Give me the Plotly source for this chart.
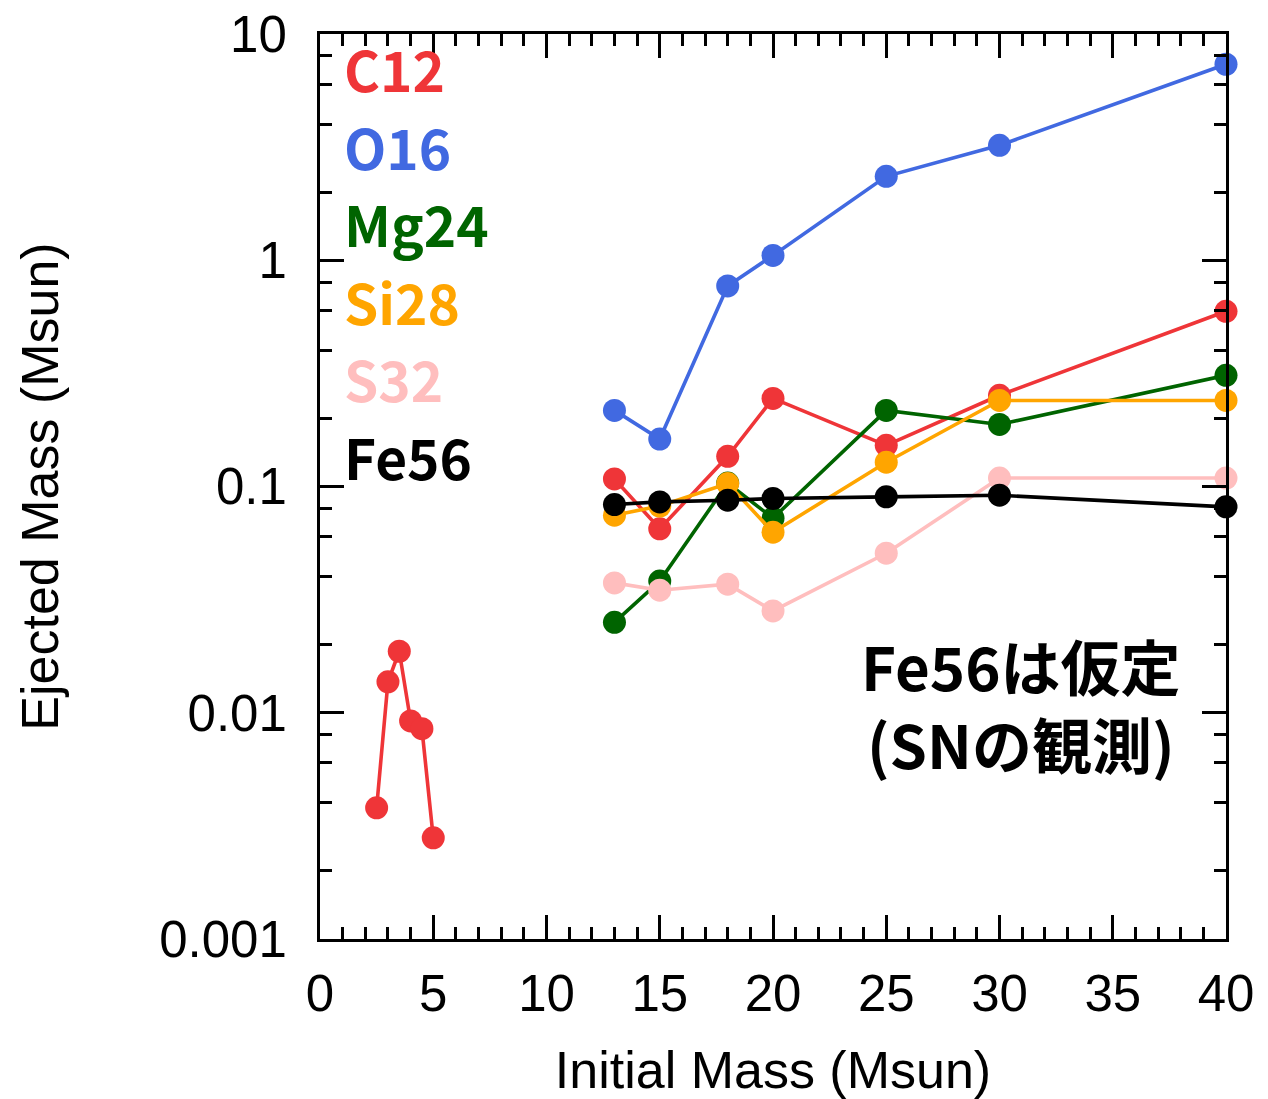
import plotly.graph_objects as go

# Initial stellar masses (Msun)
low_masses = [2.5, 3.0, 3.5, 4.0, 4.5, 5.0]
sn_masses = [13, 15, 18, 20, 25, 30, 40]

# Ejected masses (Msun) for each isotope
c12_low = [0.0038, 0.0137, 0.0187, 0.0092, 0.0085, 0.0028]
c12_sn = [0.108, 0.065, 0.136, 0.245, 0.152, 0.253, 0.595]
o16_sn = [0.217, 0.162, 0.77, 1.05, 2.35, 3.22, 7.35]
mg24_sn = [0.0251, 0.0382, 0.1035, 0.0724, 0.217, 0.188, 0.310]
si28_sn = [0.0747, 0.082, 0.103, 0.0628, 0.128, 0.240, 0.240]
s32_sn = [0.0375, 0.0348, 0.0370, 0.0282, 0.0507, 0.109, 0.109]
fe56_sn = [0.0832, 0.0855, 0.0870, 0.0885, 0.0900, 0.0915, 0.0813]

y_tickvals = [0.001, 0.01, 0.1, 1, 10]
y_ticktext = ["0.001", "0.01", "0.1", "1", "10"]
x_tickvals = [0, 5, 10, 15, 20, 25, 30, 35, 40]

RED = "#EF3538"
BLUE = "#4169E1"
GREEN = "#006400"
ORANGE = "#FFA500"
PINK = "#FFBEBE"
BLACK = "#000000"

series = [
    ("C12", low_masses, c12_low, RED),
    ("C12", sn_masses, c12_sn, RED),
    ("O16", sn_masses, o16_sn, BLUE),
    ("Mg24", sn_masses, mg24_sn, GREEN),
    ("Si28", sn_masses, si28_sn, ORANGE),
    ("S32", sn_masses, s32_sn, PINK),
    ("Fe56", sn_masses, fe56_sn, BLACK),
]

fig = go.Figure()
for name, xs, ys, color in series:
    fig.add_trace(go.Scatter(
        x=xs, y=ys, mode="lines+markers", name=name,
        line=dict(color=color, width=3.6),
        marker=dict(color=color, size=23),
        cliponaxis=False, showlegend=False,
    ))

# Coloured isotope labels in the upper-left corner
label_font = "Noto Sans CJK JP"
labels = [("C12", RED), ("O16", BLUE), ("Mg24", GREEN),
          ("Si28", ORANGE), ("S32", PINK), ("Fe56", BLACK)]
top_px, step_px = 68, 77.6
for i, (txt, color) in enumerate(labels):
    ypx = top_px + i * step_px
    fig.add_annotation(
        text=f"<b>{txt}</b>", xref="paper", yref="paper",
        x=(342 - 320) / 906, y=(939 - ypx) / 905,
        xanchor="left", yanchor="middle", showarrow=False,
        font=dict(family=label_font, size=55, color=color),
    )

# Note on the iron yield
fig.add_annotation(
    text="<b>Fe56は仮定</b><br><b>(SNの観測)</b>",
    xref="paper", yref="paper",
    x=(1021 - 320) / 906, y=(939 - 703) / 905,
    xanchor="center", yanchor="middle", align="center", showarrow=False,
    font=dict(family=label_font, size=60, color=BLACK),
)

axis_font = dict(family="Liberation Sans", size=51, color="black")
title_font = dict(family="Liberation Sans", size=52, color="black")
minor_y = [m * 10 ** e for e in range(-3, 1) for m in (2, 4, 6, 8)]

fig.update_xaxes(
    range=[0, 40], tickmode="array", tickvals=x_tickvals,
    ticks="inside", ticklen=24, tickwidth=3, tickcolor="black",
    showline=True, linewidth=3, linecolor="black", mirror="ticks",
    showgrid=False, zeroline=False,
    tickfont=axis_font, ticklabelstandoff=8,
    minor=dict(dtick=1, tick0=0, ticks="inside", ticklen=12, tickwidth=3,
               tickcolor="black", showgrid=False),
    title=dict(text="Initial Mass (Msun)", font=title_font, standoff=46),
)
fig.update_yaxes(
    type="log", range=[-3, 1], tickmode="array",
    tickvals=y_tickvals, ticktext=y_ticktext,
    ticks="inside", ticklen=24, tickwidth=3, tickcolor="black",
    showline=True, linewidth=3, linecolor="black", mirror="ticks",
    showgrid=False, zeroline=False,
    tickfont=axis_font, ticklabelstandoff=20,
    minor=dict(tickmode="array", tickvals=minor_y, ticks="inside",
               ticklen=12, tickwidth=3, tickcolor="black", showgrid=False),
    title=dict(text="Ejected Mass (Msun)", font=title_font, standoff=84),
)

fig.update_layout(
    width=1268, height=1099,
    margin=dict(l=320, r=42, t=34, b=160, autoexpand=False),
    paper_bgcolor="white", plot_bgcolor="white",
)

fig.write_html("out.html")
